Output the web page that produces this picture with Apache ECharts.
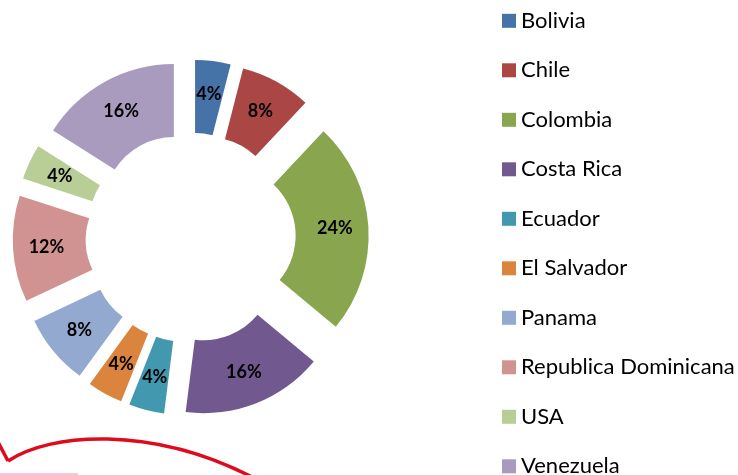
<!DOCTYPE html>
<html>
<head>
<meta charset="utf-8">
<title>Countries</title>
<script src="https://cdn.jsdelivr.net/npm/echarts@6/dist/echarts.min.js"></script>
<style>
    html, body { margin: 0; padding: 0; background: #ffffff; }
    #main { width: 738px; height: 475px; }
</style>
</head>
<body>
<div id="main"></div>
<script>
// 国家
let countries = ['Bolivia', 'Chile', 'Colombia', 'Costa Rica', 'Ecuador', 'El Salvador',
    'Panama', 'Republica Dominicana', 'USA', 'Venezuela'];
// 数量 (1 = 4%)
let counts = [1, 2, 6, 4, 1, 1, 2, 3, 1, 4];
let colors = ['#4572A7', '#AA4643', '#89A54E', '#71588F', '#4198AF', '#DB843D',
    '#93A9CF', '#D19392', '#B9CD96', '#A99BBD'];

let pieData = [];
for (let i = 0; i < countries.length; i++) {
    pieData.push({
        name: countries[i],
        value: counts[i],
        selected: true,
        itemStyle: {color: colors[i]}
    });
}

let myChart = echarts.init(document.getElementById('main'), null, {renderer: 'canvas'});
let option = {
    animation: false,
    backgroundColor: '#ffffff',
    legend: {
        orient: 'vertical',
        left: 502,
        top: 9.8,
        height: 700,
        padding: 0,
        itemWidth: 14,
        itemHeight: 14,
        itemGap: 27.5,
        icon: 'rect',
        selectedMode: false,
        textStyle: {
            fontFamily: 'Lato',
            fontSize: 22,
            color: '#000000'
        },
        data: countries
    },
    //装饰曲线
    graphic: [
        {
            type: 'polyline',
            shape: {points: [[-2, 442], [8, 461]]},
            style: {stroke: '#DE0A1E', lineWidth: 3.5, fill: null}
        },
        {
            type: 'bezierCurve',
            shape: {x1: 8, y1: 461, cpx1: 50, cpy1: 433, cpx2: 150, cpy2: 425, x2: 252, y2: 477},
            style: {stroke: '#DE0A1E', lineWidth: 3.5, fill: null}
        },
        {
            type: 'rect',
            shape: {x: 0, y: 473, width: 78, height: 2},
            style: {fill: '#F6C9DA'}
        }
    ],
    series: [
        {
            type: 'pie',
            center: [190.7, 237.7],
            radius: [70, 143],
            startAngle: 90,
            clockwise: true,
            selectedMode: 'multiple',
            selectedOffset: 35,
            percentPrecision: 0,
            avoidLabelOverlap: false,
            label: {
                show: true,
                position: 'inside',
                formatter: '{d}%',
                fontFamily: 'Lato',
                fontWeight: 'bold',
                fontSize: 18,
                color: '#000000'
            },
            labelLine: {show: false},
            emphasis: {disabled: true},
            data: pieData
        }
    ]
};
myChart.setOption(option);
</script>
</body>
</html>
